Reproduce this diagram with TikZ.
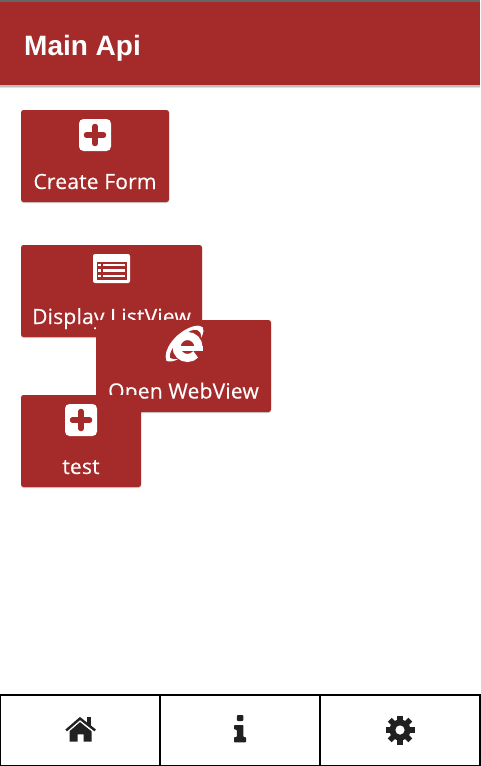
\documentclass[tikz,border=0pt]{standalone}
\usepackage{fontspec}
\setmainfont{Open Sans}
\newfontfamily\titlefont{Liberation Sans}
\newfontfamily\btnfont[LetterSpace=1,FakeBold=0.3]{Open Sans}
\usetikzlibrary{shadows}
\definecolor{brick}{HTML}{A52A2A}
\definecolor{icondark}{HTML}{212121}
\tikzset{
  btn/.style={fill=brick,draw=none,rounded corners=2.5pt,inner sep=0pt,
    general shadow={shadow xshift=0pt,shadow yshift=-1pt,fill=black,opacity=.18}},
  btntext/.style={anchor=base,text=white,inner sep=0pt,font=\btnfont\fontsize{21}{24}\selectfont},
  navcell/.style={draw=black,line width=2pt,fill=white,inner sep=0pt,minimum height=71pt,minimum width=160pt},
  cross/.style={draw=brick,line width=5.5pt,line cap=round},
  plusbox/.style={fill=white,rounded corners=4.5pt}
}
\newcommand{\plusicon}[2]{%
  \fill[plusbox] (#1-16,#2-16) rectangle (#1+16,#2+16);
  \draw[cross] (#1-8.5,#2) -- (#1+8.5,#2) (#1,#2-8.5) -- (#1,#2+8.5);
}
\begin{document}
\begin{tikzpicture}[x=1pt,y=-1pt]
\useasboundingbox (0,0) rectangle (480,766);
\fill[white] (0,0) rectangle (480,766);
% header
\fill[black!12] (0,85) rectangle (480,88);
\fill[black!25] (0,85) rectangle (480,86.5);
\fill[brick] (0,0) rectangle (480,85);
\fill[black!60] (0,0) rectangle (480,2);
\node[anchor=base west,text=white,inner sep=0pt,font=\titlefont\bfseries\fontsize{28}{32}\selectfont] (title) at (24,55) {Main Api};
% Create Form
\node[btn,minimum width=148pt,minimum height=92pt] (create) at (95,156) {};
\plusicon{95}{135}
\node[btntext] (createlabel) at (95,189) {Create Form};
% Display ListView
\node[btn,minimum width=181pt,minimum height=92pt] (display) at (111.5,291) {};
\fill[white,rounded corners=2pt] (93,254) rectangle (130,283);
\fill[brick] (96.7,262) rectangle (126.7,280.3);
\foreach \yy in {264.7,270.5,276.3}{
  \fill[white] (98,\yy-1.1) rectangle (101,\yy+1.1);
  \fill[white] (103.3,\yy-1.1) rectangle (125,\yy+1.1);
}
\node[btntext] (displaylabel) at (111.5,324) {Display ListView};
% Open WebView
\node[btn,minimum width=175pt,minimum height=92pt] (open) at (183.5,366) {};
\draw[white,line width=8pt] (187.5,347) ++(0:11) arc[start angle=0,end angle=-318,radius=11];
\fill[white] (175,345.5) rectangle (202.5,351);
\fill[white] (166.5,361) .. controls (162,350) and (176,333) .. (190,327.5)
  .. controls (197,324.5) and (204.5,325) .. (203.5,331)
  .. controls (203.3,333.5) and (202,336) .. (201,338)
  .. controls (202,329) and (195,328) .. (188,332)
  .. controls (178,338) and (168,352) .. (170,358)
  .. controls (173,359.5) and (175,359.5) .. (178,359)
  .. controls (174,361.5) and (170,362) .. (166.5,361) -- cycle;
\node[btntext] (openlabel) at (183.5,398.5) {Open WebView};
% test
\node[btn,minimum width=120pt,minimum height=92pt] (testbtn) at (81,441) {};
\plusicon{81}{420}
\node[btntext] (testlabel) at (81,474) {test};
% bottom nav
\node[navcell] (navhome) at (80,730) {};
\node[navcell] (navinfo) at (240,730) {};
\node[navcell] (navgear) at (400,730) {};
% home icon
\fill[icondark] (87,717.3) rectangle (91,727);
\fill[icondark,even odd rule] (69.5,731) -- (80,722) -- (91.5,731) -- (91.5,741.7) -- (83.5,741.7) -- (83.5,734.3) -- (77.5,734.3) -- (77.5,741.7) -- (69.5,741.7) -- cycle;
\draw[white,line width=1.6pt] (67,732) -- (80,720.6) -- (94,732);
\draw[icondark,line width=2.4pt] (66.2,730.4) -- (80,718.5) -- (95.2,730.4);
% info icon
\fill[icondark,rounded corners=1pt] (236.8,715) rectangle (243.4,721);
\fill[icondark,rounded corners=.8pt] (234,725) -- (243.4,725) -- (243.4,737) -- (246,737) -- (246,742.3) -- (234,742.3) -- (234,737) -- (236.8,737) -- (236.8,729.5) -- (234,729.5) -- cycle;
% gear icon
\fill[icondark] (400,730) circle[radius=10.5];
\foreach \a in {0,45,...,315}{
  \fill[icondark,rotate around={\a:(400,730)}] (397.2,715.5) rectangle (402.8,724);
}
\fill[white] (400,730) circle[radius=4.6];
\end{tikzpicture}
\end{document}
